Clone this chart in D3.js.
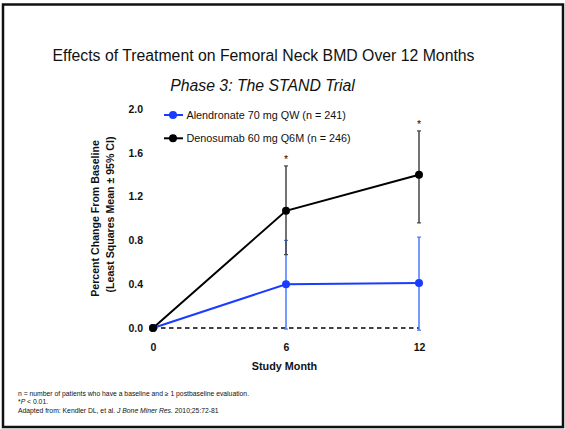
<!DOCTYPE html>
<html><head><meta charset="utf-8">
<script src="https://cdn.jsdelivr.net/npm/d3@7"></script>
<style>body{margin:0;background:#fff}svg{display:block;font-family:Arial,"Liberation Sans",sans-serif}</style>
</head><body><svg id="c" width="565" height="429"></svg>
<script>
const months = [0, 6, 12];
const xTicks = [0, 6, 12];
const yTicks = [0.0, 0.4, 0.8, 1.2, 1.6, 2.0];
const alendronate = [0.0, 0.40, 0.41];
const alendronateLo = [null, -0.01, -0.02];
const alendronateHi = [null, 0.80, 0.83];
const denosumab = [0.0, 1.07, 1.40];
const denosumabLo = [null, 0.67, 0.96];
const denosumabHi = [null, 1.48, 1.80];
const seriesNames = ["Alendronate 70 mg QW (n = 241)", "Denosumab 60 mg Q6M (n = 246)"];
const sigMonths = [6, 12];
const footnotes = ["n = number of patients who have a baseline and \u2265 1 postbaseline evaluation."];

const FONT = "Arial,'Liberation Sans',sans-serif";
const svg = d3.select("#c");
svg.append("rect").attr("x",3).attr("y",4.5).attr("width",560).attr("height",422.5)
  .attr("fill","none").attr("stroke","#111").attr("stroke-width",2.5);

svg.append("text").attr("x",263.5).attr("y",61).attr("text-anchor","middle")
  .attr("font-size",15.8).attr("fill","#111").text("Effects of Treatment on Femoral Neck BMD Over 12 Months");
svg.append("text").attr("x",262.5).attr("y",91).attr("text-anchor","middle")
  .attr("font-size",15.8).attr("font-style","italic").attr("fill","#111").text("Phase 3: The STAND Trial");

const x = d3.scaleLinear().domain([0,12]).range([153,419]);
const y = d3.scaleLinear().domain([0,2]).range([328,109]);

const yAxis = d3.axisLeft(y).tickValues(yTicks).tickFormat(d3.format(".1f")).tickSize(0).tickPadding(0);
const gy = svg.append("g").attr("transform","translate(143,0)").call(yAxis);
gy.select(".domain").remove();
gy.selectAll("text").attr("font-size",10.5).attr("font-weight","bold").attr("fill","#111").attr("font-family",FONT);

const xAxis = d3.axisBottom(x).tickValues(xTicks).tickFormat(d3.format("d")).tickSize(0).tickPadding(0);
const gx = svg.append("g").attr("transform","translate(0,344)").call(xAxis);
gx.select(".domain").remove();
gx.selectAll("text").attr("font-size",10.5).attr("font-weight","bold").attr("fill","#111").attr("font-family",FONT);

svg.append("text").attr("x",284.5).attr("y",370).attr("text-anchor","middle")
  .attr("font-size",10.8).attr("font-weight","bold").attr("fill","#111").text("Study Month");

const yt = svg.append("text").attr("font-size",10.6).attr("font-weight","bold")
  .attr("fill","#111").attr("text-anchor","middle").attr("transform","rotate(-90)");
yt.append("tspan").attr("x",-218.5).attr("y",99).text("Percent Change From Baseline");
yt.append("tspan").attr("x",-214.5).attr("y",113.5).text("(Least Squares Mean \u00b1 95% CI)");

svg.append("line").attr("x1",x(0)).attr("x2",x(12)).attr("y1",y(0)).attr("y2",y(0))
  .attr("stroke","#000").attr("stroke-width",1.5).attr("stroke-dasharray","4.5,3.5");

function drawSeries(vals, lo, hi, lineColor, errColor, r) {
  const g = svg.append("g");
  months.forEach((m,i)=>{
    if (lo[i]===null) return;
    g.append("line").attr("x1",x(m)).attr("x2",x(m)).attr("y1",y(lo[i])).attr("y2",y(hi[i]))
      .attr("stroke",errColor).attr("stroke-width",1.5);
    [lo[i],hi[i]].forEach(v=>g.append("line").attr("x1",x(m)-2).attr("x2",x(m)+2).attr("y1",y(v)).attr("y2",y(v))
      .attr("stroke",errColor).attr("stroke-width",1.2));
  });
  g.append("path").datum(vals).attr("fill","none").attr("stroke",lineColor).attr("stroke-width",2)
    .attr("d", d3.line().x((d,i)=>x(months[i])).y(d=>y(d)));
  g.selectAll("circle").data(vals).join("circle").attr("cx",(d,i)=>x(months[i])).attr("cy",d=>y(d))
    .attr("r",r).attr("fill",lineColor);
}
drawSeries(alendronate, alendronateLo, alendronateHi, "#1a3cff", "#4a78ff", 4);
drawSeries(denosumab, denosumabLo, denosumabHi, "#000", "#444", 4);

sigMonths.forEach(m=>{
  const i = months.indexOf(m);
  svg.append("text").attr("x",x(m)).attr("y",y(denosumabHi[i])-3).attr("text-anchor","middle")
    .attr("font-size",10.5).attr("fill","#111").text("*");
});

const legColors = ["#1a3cff","#000"];
seriesNames.forEach((n,i)=>{
  const ly = 115 + i*23.3;
  svg.append("line").attr("x1",164).attr("x2",183).attr("y1",ly).attr("y2",ly).attr("stroke",legColors[i]).attr("stroke-width",2);
  svg.append("circle").attr("cx",173).attr("cy",ly).attr("r",4).attr("fill",legColors[i]);
  svg.append("text").attr("x",186.5).attr("y",ly+3.8).attr("font-size",10.8).attr("fill","#111").text(n);
});

const fn = svg.append("g").attr("font-size",6.8).attr("fill","#111");
fn.append("text").attr("x",18).attr("y",395.5).text(footnotes[0]);
const f2 = fn.append("text").attr("x",18).attr("y",404.3);
f2.append("tspan").text("*");
f2.append("tspan").attr("font-style","italic").text("P");
f2.append("tspan").text(" < 0.01.");
const f3 = fn.append("text").attr("x",18).attr("y",412.8);
f3.append("tspan").text("Adapted from: Kendler DL, et al. ");
f3.append("tspan").attr("font-style","italic").text("J Bone Miner Res.");
f3.append("tspan").text(" 2010;25:72-81");
</script></body></html>
